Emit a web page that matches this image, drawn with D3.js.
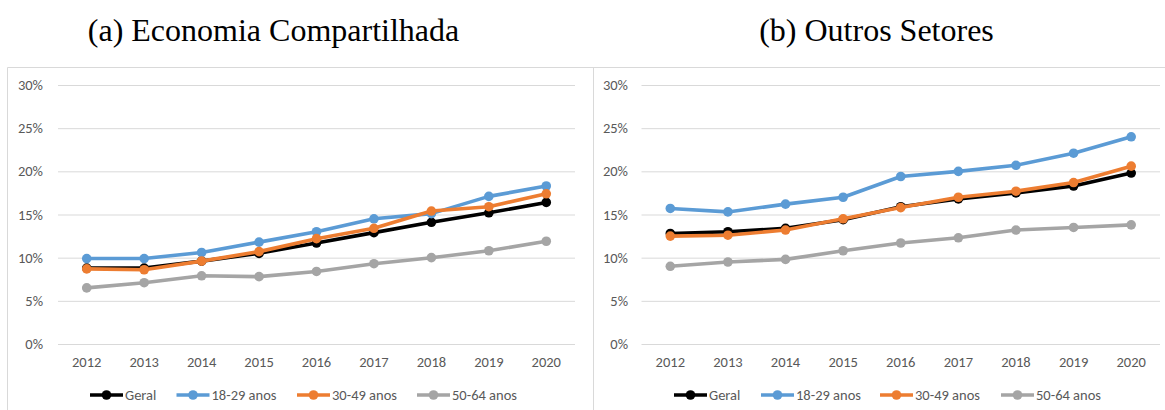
<!DOCTYPE html>
<html><head><meta charset="utf-8">
<script src="https://cdn.jsdelivr.net/npm/d3@7"></script>
<style>
html,body{margin:0;padding:0;background:#fff;}
svg{display:block;}
</style></head>
<body>
<svg id="chart" width="1165" height="410"></svg>
<script>
// ---- data ----
const years = ["2012","2013","2014","2015","2016","2017","2018","2019","2020"];
const seriesNames = ["Geral","18-29 anos","30-49 anos","50-64 anos"];
const seriesColors = ["#000000","#5B9BD5","#ED7D31","#A5A5A5"];
const yTicks = [0,5,10,15,20,25,30];
const panelTitles = ["(a) Economia Compartilhada","(b) Outros Setores"];

// (a) Economia Compartilhada
const econGeral = [8.8, 8.8, 9.6, 10.5, 11.7, 12.9, 14.1, 15.2, 16.4];
const econ1829  = [9.9, 9.9, 10.6, 11.8, 13.0, 14.5, 15.1, 17.1, 18.3];
const econ3049  = [8.7, 8.6, 9.6, 10.7, 12.2, 13.4, 15.4, 15.9, 17.4];
const econ5064  = [6.5, 7.1, 7.9, 7.8, 8.4, 9.3, 10.0, 10.8, 11.9];

// (b) Outros Setores
const outGeral = [12.8, 13.0, 13.4, 14.4, 15.9, 16.8, 17.5, 18.3, 19.8];
const out1829  = [15.7, 15.3, 16.2, 17.0, 19.4, 20.0, 20.7, 22.1, 24.0];
const out3049  = [12.5, 12.6, 13.2, 14.5, 15.8, 17.0, 17.7, 18.7, 20.6];
const out5064  = [9.0, 9.5, 9.8, 10.8, 11.7, 12.3, 13.2, 13.5, 13.8];

const panelData = [
  [econGeral, econ1829, econ3049, econ5064],
  [outGeral, out1829, out3049, out5064]
];

// ---- layout ----
const svg = d3.select("#chart");
const tickFont = "Carlito, Lato, 'Open Sans', sans-serif";
const tickSize = "14.5px";
const panels = [
  {x0: 58, x1: 575, labelX: 43, titleX: 273.5, legendX: [90, 176.5, 297, 417]},
  {x0: 641.5, x1: 1160, labelX: 628, titleX: 876.5, legendX: [674, 761, 880, 1001]}
];

// frame lines
svg.append("line").attr("x1",7.5).attr("x2",1165).attr("y1",67.5).attr("y2",67.5)
  .attr("stroke","#D9D9D9").attr("stroke-width",1);
svg.append("line").attr("x1",7.5).attr("x2",7.5).attr("y1",67.5).attr("y2",410)
  .attr("stroke","#D9D9D9").attr("stroke-width",1);
svg.append("line").attr("x1",593.5).attr("x2",593.5).attr("y1",67.5).attr("y2",410)
  .attr("stroke","#D9D9D9").attr("stroke-width",1);

const y = d3.scaleLinear().domain([0,30]).range([344,85]);

panels.forEach((p, pi) => {
  const g = svg.append("g");
  // title
  svg.append("text").attr("x", p.titleX).attr("y", 41)
    .attr("text-anchor","middle")
    .style("font-family","'Liberation Serif','Times New Roman',serif")
    .style("font-size","32px").attr("fill","#000")
    .text(panelTitles[pi]);

  const x = d3.scaleBand().domain(years).range([p.x0, p.x1]).padding(0);
  const cx = d => x(d) + x.bandwidth()/2;

  // gridlines
  const yAxis = d3.axisLeft(y).tickValues(yTicks).tickFormat(d => d + "%")
    .tickSize(-(p.x1 - p.x0)).tickPadding(p.x0 - p.labelX);
  const ya = g.append("g").attr("transform", `translate(${p.x0},0)`).call(yAxis);
  ya.select(".domain").remove();
  ya.selectAll(".tick line").attr("stroke","#D9D9D9").attr("stroke-width",1);
  ya.selectAll(".tick text").attr("fill","#595959")
    .style("font-family",tickFont).style("font-size",tickSize);

  // x axis labels
  const xAxis = d3.axisBottom(x).tickSize(0).tickPadding(13);
  const xa = g.append("g").attr("transform","translate(0,344)").call(xAxis);
  xa.select(".domain").remove();
  xa.selectAll(".tick text").attr("fill","#595959")
    .style("font-family",tickFont).style("font-size",tickSize);

  // series
  const line = d3.line().x((d,i) => cx(years[i])).y(d => y(d));
  panelData[pi].forEach((vals, si) => {
    const sg = g.append("g");
    sg.append("path").datum(vals).attr("d", line)
      .attr("fill","none").attr("stroke", seriesColors[si])
      .attr("stroke-width",3.6).attr("stroke-linejoin","round").attr("stroke-linecap","round");
    sg.selectAll("circle").data(vals).join("circle")
      .attr("cx",(d,i) => cx(years[i])).attr("cy", d => y(d))
      .attr("r",4.8).attr("fill",seriesColors[si]);
  });

  // legend
  const ly = 395;
  seriesNames.forEach((name, si) => {
    const lx = p.legendX[si];
    const lg = g.append("g");
    lg.append("line").attr("x1",lx).attr("x2",lx+33).attr("y1",ly).attr("y2",ly)
      .attr("stroke",seriesColors[si]).attr("stroke-width",3.6);
    lg.append("circle").attr("cx",lx+16.5).attr("cy",ly).attr("r",4.8).attr("fill",seriesColors[si]);
    lg.append("text").attr("x",lx+35).attr("y",ly).attr("dy","0.35em")
      .attr("fill","#595959").style("font-family",tickFont).style("font-size",tickSize)
      .text(name);
  });
});
</script>
</body></html>
